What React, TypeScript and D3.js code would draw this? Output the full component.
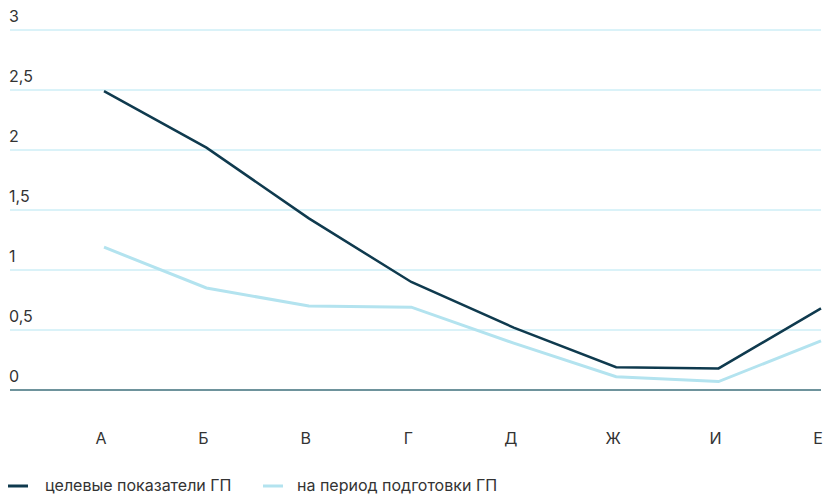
import React from "react";
import * as d3 from "d3";

const categories = ["А", "Б", "В", "Г", "Д", "Ж", "И", "Е"];
const targetValues = [2.49, 2.02, 1.43, 0.9, 0.52, 0.19, 0.18, 0.68];
const prepValues = [1.19, 0.85, 0.7, 0.69, 0.39, 0.11, 0.07, 0.41];
const yTicks = [0, 0.5, 1, 1.5, 2, 2.5, 3];
const seriesNames = ["целевые показатели ГП", "на период подготовки ГП"];

const W = 833;
const H = 496;
const DARK = "#0f3a4e";
const LIGHT = "#b3e3ef";
const GRID = "#b5e6f2";
const AXIS = "#3e6f7b";
const FONT = "Inter, 'Noto Sans', sans-serif";

export default function App() {
  const x = d3.scalePoint<string>().domain(categories).range([104, 821]);
  const y = d3.scaleLinear().domain([0, 3]).range([390, 30]);
  const line = d3
    .line<number>()
    .x((_, i) => x(categories[i]) as number)
    .y((d) => y(d));
  const fmt = (v: number) => String(v).replace(".", ",");

  return (
    <svg
      width={W}
      height={H}
      style={{ position: "absolute", left: 0, top: 0, background: "#fff" }}
      fontFamily={FONT}
    >
      {yTicks.map((t) => (
        <g key={t}>
          <line
            x1={10}
            x2={821}
            y1={y(t)}
            y2={y(t)}
            stroke={t === 0 ? AXIS : GRID}
            strokeWidth={t === 0 ? 1.5 : 1}
          />
          <text x={9} y={y(t) - 8} fontSize={16} fill="#333">
            {fmt(t)}
          </text>
        </g>
      ))}
      {categories.map((c) => (
        <text
          key={c}
          x={(x(c) as number) - 3}
          y={444}
          fontSize={16}
          fill="#333"
          textAnchor="middle"
        >
          {c}
        </text>
      ))}
      <path d={line(prepValues) ?? ""} fill="none" stroke={LIGHT} strokeWidth={3} />
      <path d={line(targetValues) ?? ""} fill="none" stroke={DARK} strokeWidth={2.5} />
      <line x1={8} x2={28} y1={486} y2={486} stroke={DARK} strokeWidth={3} />
      <text x={45} y={491} fontSize={16} fill="#333">
        {seriesNames[0]}
      </text>
      <line x1={263} x2={283} y1={486} y2={486} stroke={LIGHT} strokeWidth={3} />
      <text x={297} y={491} fontSize={16} fill="#333">
        {seriesNames[1]}
      </text>
    </svg>
  );
}
